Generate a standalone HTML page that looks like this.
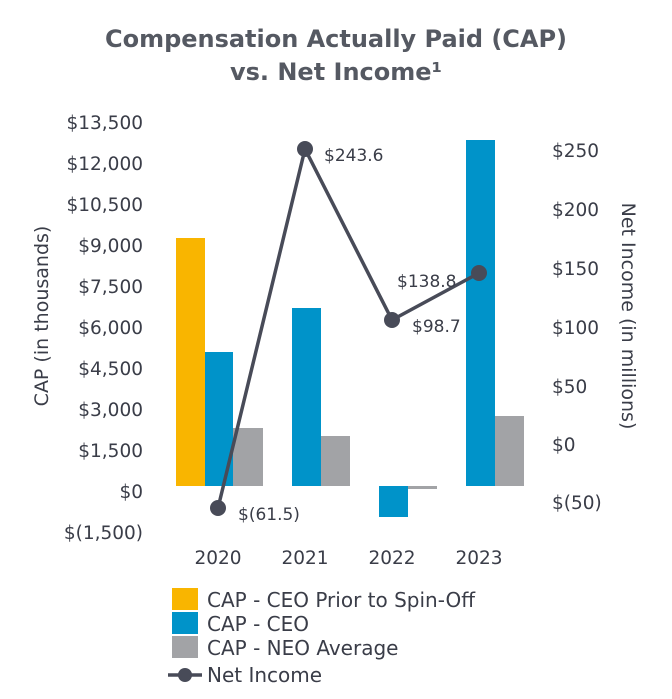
<!DOCTYPE html>
<html><head><meta charset="utf-8"><style>
body{margin:0;background:#fff;}
svg text{font-family:"DejaVu Sans","Liberation Sans",sans-serif;fill:#3a3d48;}
</style></head><body>
<svg width="672" height="694" viewBox="0 0 672 694" xmlns="http://www.w3.org/2000/svg">
<text x="336" y="47" font-size="24" font-weight="bold" text-anchor="middle" textLength="462" style="fill:#555962">Compensation Actually Paid (CAP)</text>
<text x="336" y="80" font-size="24" font-weight="bold" text-anchor="middle" style="fill:#555962">vs. Net Income¹</text>
<g font-size="18.5" text-anchor="end">
<text x="143" y="129">$13,500</text>
<text x="143" y="170">$12,000</text>
<text x="143" y="211">$10,500</text>
<text x="143" y="252">$9,000</text>
<text x="143" y="293">$7,500</text>
<text x="143" y="334">$6,000</text>
<text x="143" y="375">$4,500</text>
<text x="143" y="416">$3,000</text>
<text x="143" y="457">$1,500</text>
<text x="143" y="498">$0</text>
<text x="143" y="539">$(1,500)</text>
</g>
<g font-size="18.5" text-anchor="start">
<text x="552" y="157">$250</text>
<text x="552" y="216">$200</text>
<text x="552" y="275">$150</text>
<text x="552" y="334">$100</text>
<text x="552" y="393">$50</text>
<text x="552" y="451">$0</text>
<text x="552" y="509">$(50)</text>
</g>
<text transform="translate(48,316) rotate(-90)" font-size="19" text-anchor="middle">CAP (in thousands)</text>
<text transform="translate(622,316) rotate(90)" font-size="19" text-anchor="middle">Net Income (in millions)</text>
<rect x="176" y="238" width="29" height="248" fill="#f9b500"/>
<rect x="205" y="352" width="28" height="134" fill="#0093c9"/>
<rect x="233" y="428" width="30" height="58" fill="#a2a3a6"/>
<rect x="292" y="308" width="29" height="178" fill="#0093c9"/>
<rect x="321" y="436" width="29" height="50" fill="#a2a3a6"/>
<rect x="379" y="486" width="29" height="31" fill="#0093c9"/>
<rect x="408" y="486" width="29" height="3" fill="#a2a3a6"/>
<rect x="466" y="140" width="29" height="346" fill="#0093c9"/>
<rect x="495" y="416" width="29" height="70" fill="#a2a3a6"/>
<polyline points="218,508 305,149 392,320 479,273" fill="none" stroke="#484b58" stroke-width="3.5"/>
<g fill="#484b58"><circle cx="218" cy="508" r="8"/><circle cx="305" cy="149" r="8"/><circle cx="392" cy="320" r="8"/><circle cx="479" cy="273" r="8"/></g>
<g font-size="17">
<text x="238" y="520">$(61.5)</text>
<text x="324" y="161">$243.6</text>
<text x="412" y="332">$98.7</text>
<text x="397" y="287">$138.8</text>
</g>
<g font-size="18.5" text-anchor="middle">
<text x="218" y="564">2020</text><text x="305" y="564">2021</text><text x="392" y="564">2022</text><text x="479" y="564">2023</text>
</g>
<rect x="172" y="588" width="26" height="22" fill="#f9b500"/>
<rect x="172" y="612" width="26" height="22" fill="#0093c9"/>
<rect x="172" y="636" width="26" height="22" fill="#a2a3a6"/>
<line x1="168" y1="675" x2="202" y2="675" stroke="#484b58" stroke-width="3.5"/>
<circle cx="185" cy="675" r="7" fill="#484b58"/>
<g font-size="20">
<text x="207" y="607">CAP - CEO Prior to Spin-Off</text>
<text x="207" y="631">CAP - CEO</text>
<text x="207" y="655">CAP - NEO Average</text>
<text x="207" y="682">Net Income</text>
</g>
</svg>
</body></html>
